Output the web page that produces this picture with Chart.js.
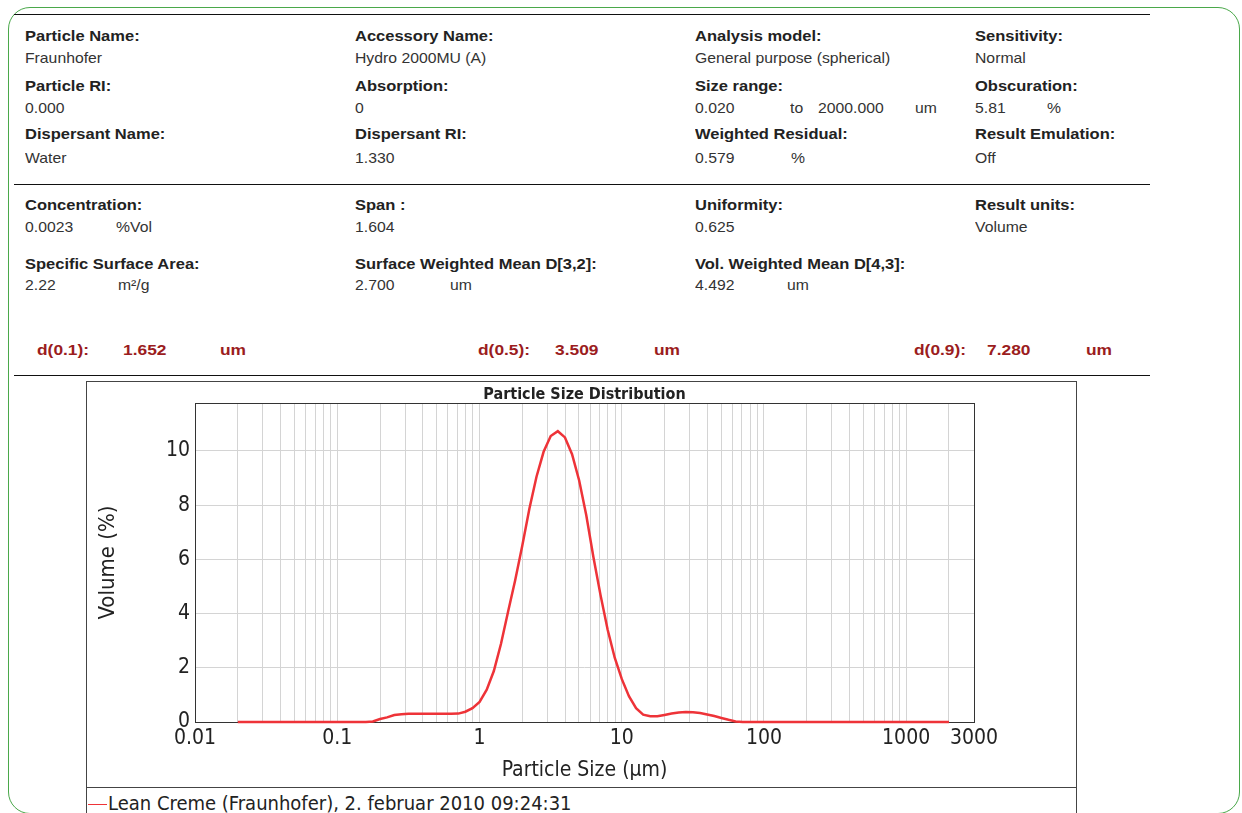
<!DOCTYPE html>
<html lang="en">
<head>
<meta charset="UTF-8">
<title>Particle Size Distribution</title>
<script src="https://cdn.jsdelivr.net/npm/chart.js"></script>
<style>
  html, body { margin: 0; padding: 0; background: #fff; }
  body { width: 1242px; height: 813px; position: relative; overflow: hidden; font-family: "Liberation Sans", Arial, sans-serif; }
  .frame { position: absolute; left: 8px; top: 7px; width: 1230px; height: 805px; border: 1.5px solid #4aa84a; border-radius: 22px; }
  .rule { position: absolute; left: 14px; width: 1136px; height: 0; border-top: 1.5px solid #111; }
  .t { position: absolute; font-size: 15px; line-height: 16px; color: #333; white-space: nowrap; transform: scaleX(1.05); transform-origin: left center; }
  .b { font-weight: bold; color: #222; transform: scaleX(1.1); }
  .d { font-weight: bold; color: #9b1c20; font-size: 15.5px; transform: scaleX(1.12); }
  .box { position: absolute; left: 86px; top: 381px; width: 989px; height: 500px; border: 1px solid #444; }
  .legline { position: absolute; left: 86px; top: 787px; width: 990px; height: 0; border-top: 1px solid #444; }
  #chartWrap { position: absolute; left: 86px; top: 381px; width: 990px; height: 406px; }
  .legend { position: absolute; left: 88px; top: 791px; font-family: "DejaVu Sans Condensed", "DejaVu Sans", sans-serif; font-size: 20px; line-height: 24px; color: #222; white-space: nowrap; }
  .legend span { display: inline-block; width: 19px; height: 0; border-top: 1.5px solid #ee3338; vertical-align: middle; margin-right: 1px; }
</style>
</head>
<body>
  <div class="frame"></div>
  <div class="rule" style="top:14px"></div>
  <div class="rule" style="top:184px"></div>
  <div class="rule" style="top:375px"></div>

  <!-- measurement settings -->
  <div class="t b" style="left:25px;top:28px">Particle Name:</div>
  <div class="t" style="left:25px;top:50px">Fraunhofer</div>
  <div class="t b" style="left:25px;top:78px">Particle RI:</div>
  <div class="t" style="left:25px;top:100px">0.000</div>
  <div class="t b" style="left:25px;top:126px">Dispersant Name:</div>
  <div class="t" style="left:25px;top:150px">Water</div>

  <div class="t b" style="left:355px;top:28px">Accessory Name:</div>
  <div class="t" style="left:355px;top:50px">Hydro 2000MU (A)</div>
  <div class="t b" style="left:355px;top:78px">Absorption:</div>
  <div class="t" style="left:355px;top:100px">0</div>
  <div class="t b" style="left:355px;top:126px">Dispersant RI:</div>
  <div class="t" style="left:355px;top:150px">1.330</div>

  <div class="t b" style="left:695px;top:28px">Analysis model:</div>
  <div class="t" style="left:695px;top:50px">General purpose (spherical)</div>
  <div class="t b" style="left:695px;top:78px">Size range:</div>
  <div class="t" style="left:695px;top:100px">0.020</div>
  <div class="t" style="left:790px;top:100px">to</div>
  <div class="t" style="left:818px;top:100px">2000.000</div>
  <div class="t" style="left:915px;top:100px">um</div>
  <div class="t b" style="left:695px;top:126px">Weighted Residual:</div>
  <div class="t" style="left:695px;top:150px">0.579</div>
  <div class="t" style="left:791px;top:150px">%</div>

  <div class="t b" style="left:975px;top:28px">Sensitivity:</div>
  <div class="t" style="left:975px;top:50px">Normal</div>
  <div class="t b" style="left:975px;top:78px">Obscuration:</div>
  <div class="t" style="left:975px;top:100px">5.81</div>
  <div class="t" style="left:1047px;top:100px">%</div>
  <div class="t b" style="left:975px;top:126px">Result Emulation:</div>
  <div class="t" style="left:975px;top:150px">Off</div>

  <!-- result summary -->
  <div class="t b" style="left:25px;top:197px">Concentration:</div>
  <div class="t" style="left:25px;top:219px">0.0023</div>
  <div class="t" style="left:116px;top:219px">%Vol</div>
  <div class="t b" style="left:25px;top:256px">Specific Surface Area:</div>
  <div class="t" style="left:25px;top:277px">2.22</div>
  <div class="t" style="left:118px;top:277px">m²/g</div>

  <div class="t b" style="left:355px;top:197px">Span :</div>
  <div class="t" style="left:355px;top:219px">1.604</div>
  <div class="t b" style="left:355px;top:256px">Surface Weighted Mean D[3,2]:</div>
  <div class="t" style="left:355px;top:277px">2.700</div>
  <div class="t" style="left:450px;top:277px">um</div>

  <div class="t b" style="left:695px;top:197px">Uniformity:</div>
  <div class="t" style="left:695px;top:219px">0.625</div>
  <div class="t b" style="left:695px;top:256px">Vol. Weighted Mean D[4,3]:</div>
  <div class="t" style="left:695px;top:277px">4.492</div>
  <div class="t" style="left:787px;top:277px">um</div>

  <div class="t b" style="left:975px;top:197px">Result units:</div>
  <div class="t" style="left:975px;top:219px">Volume</div>

  <div class="t d" style="left:37px;top:342px">d(0.1):</div>
  <div class="t d" style="left:123px;top:342px">1.652</div>
  <div class="t d" style="left:220px;top:342px">um</div>
  <div class="t d" style="left:478px;top:342px">d(0.5):</div>
  <div class="t d" style="left:555px;top:342px">3.509</div>
  <div class="t d" style="left:654px;top:342px">um</div>
  <div class="t d" style="left:914px;top:342px">d(0.9):</div>
  <div class="t d" style="left:987px;top:342px">7.280</div>
  <div class="t d" style="left:1086px;top:342px">um</div>

  <div class="box"></div>
  <div class="legline"></div>
  <div id="chartWrap"><canvas id="psdChart"></canvas></div>
  <div class="legend" id="legend"></div>

<script>
// particle size bins (um) and volume (%)
const sizes = [
  0.020, 0.022, 0.025, 0.028, 0.032, 0.036, 0.040, 0.045, 0.050, 0.056,
  0.063, 0.071, 0.080, 0.089, 0.100, 0.112, 0.126, 0.142, 0.159, 0.178,
  0.200, 0.224, 0.252, 0.283, 0.317, 0.356, 0.399, 0.448, 0.502, 0.564,
  0.632, 0.710, 0.796, 0.893, 1.002, 1.125, 1.262, 1.416, 1.589, 1.783,
  2.000, 2.244, 2.518, 2.825, 3.170, 3.557, 3.991, 4.477, 5.024, 5.637,
  6.325, 7.096, 7.962, 8.934, 10.024, 11.247, 12.619, 14.159, 15.887, 17.825,
  20.000, 22.440, 25.179, 28.251, 31.698, 35.566, 39.905, 44.774, 50.238, 56.368,
  63.246, 70.963, 79.621, 89.337, 100.237, 112.468, 126.191, 141.589, 158.866, 178.250,
  200.000, 224.404, 251.785, 282.508, 316.979, 355.656, 399.052, 447.744, 502.377, 563.677,
  632.456, 709.627, 796.214, 893.367, 1002.374, 1124.683, 1261.915, 1415.892, 1588.656, 1782.502,
  2000.000
];
const volume = [
  0, 0, 0, 0, 0, 0, 0, 0, 0, 0,
  0, 0, 0, 0, 0, 0, 0, 0, 0, 0.02,
  0.11, 0.17, 0.26, 0.29, 0.30, 0.30, 0.30, 0.30, 0.30, 0.30,
  0.30, 0.31, 0.38, 0.51, 0.74, 1.19, 1.88, 2.88, 4.07, 5.23,
  6.50, 7.87, 9.05, 9.97, 10.55, 10.73, 10.50, 9.88, 8.91, 7.63,
  6.09, 4.69, 3.41, 2.37, 1.58, 0.95, 0.51, 0.27, 0.21, 0.21,
  0.26, 0.31, 0.35, 0.37, 0.36, 0.33, 0.28, 0.22, 0.15, 0.08,
  0.02, 0, 0, 0, 0, 0, 0, 0, 0, 0,
  0, 0, 0, 0, 0, 0, 0, 0, 0, 0,
  0, 0, 0, 0, 0, 0, 0, 0, 0, 0,
  0
];
const seriesLabel = 'Lean Creme (Fraunhofer), 2. februar 2010 09:24:31';
const xLabels = [0.01, 0.1, 1, 10, 100, 1000, 3000];
const yTicks = [0, 2, 4, 6, 8, 10];
const yMax = 11.77;

// minor grid: 1..9 in every decade up to 3000
const xGrid = [];
for (let e = -2; e <= 3; e++) {
  for (let m = 1; m <= 9; m++) {
    const v = +(m * Math.pow(10, e)).toPrecision(3);
    if (v <= 3000) xGrid.push(v);
  }
}

const chartFont = "'DejaVu Sans Condensed', 'Liberation Sans Narrow', 'DejaVu Sans', sans-serif";

const plotFrame = {
  id: 'plotFrame',
  beforeDatasetsDraw(chart) {
    const a = chart.chartArea;
    const ctx = chart.ctx;
    ctx.save();
    ctx.strokeStyle = '#333';
    ctx.lineWidth = 1;
    ctx.strokeRect(Math.round(a.left) + 0.5, Math.round(a.top) + 0.5, Math.round(a.right - a.left), Math.round(a.bottom - a.top));
    ctx.restore();
  }
};

new Chart(document.getElementById('psdChart'), {
  type: 'line',
  data: {
    datasets: [{
      label: seriesLabel,
      data: sizes.map((s, i) => ({ x: s, y: volume[i] })),
      borderColor: '#ee3338',
      borderWidth: 2.5,
      pointRadius: 0,
      tension: 0,
      fill: false,
      clip: false
    }]
  },
  options: {
    responsive: true,
    maintainAspectRatio: false,
    animation: false,
    layout: { padding: { left: 0, right: 102, top: 0, bottom: 0 } },
    plugins: {
      legend: { display: false },
      tooltip: { enabled: false },
      title: {
        display: true,
        text: 'Particle Size Distribution',
        fullSize: false,
        color: '#222',
        font: { family: chartFont, size: 16, weight: 'bold', lineHeight: 1 },
        padding: { top: 6, bottom: 0 }
      }
    },
    scales: {
      x: {
        type: 'logarithmic',
        min: 0.01,
        max: 3000,
        afterBuildTicks: s => { s.ticks = xGrid.map(v => ({ value: v })); },
        afterFit: s => { s.height = 65; },
        grid: { color: '#d4d4d4', lineWidth: 1, drawTicks: false },
        border: { display: false },
        ticks: {
          autoSkip: false,
          maxRotation: 0,
          padding: 4,
          color: '#222',
          font: { family: chartFont, size: 21 },
          callback: v => xLabels.some(l => Math.abs(l - v) / l < 1e-6) ? String(v) : ''
        },
        title: {
          display: true,
          text: 'Particle Size (μm)',
          color: '#222',
          font: { family: chartFont, size: 21 },
          padding: { top: 0, bottom: 4 }
        }
      },
      y: {
        min: 0,
        max: yMax,
        afterBuildTicks: s => { s.ticks = yTicks.map(v => ({ value: v })); },
        afterFit: s => { s.width = 109; },
        grid: { color: '#d4d4d4', lineWidth: 1, drawTicks: false },
        border: { display: false },
        ticks: {
          padding: 5,
          color: '#222',
          font: { family: chartFont, size: 21 }
        },
        title: {
          display: true,
          text: 'Volume (%)',
          color: '#222',
          font: { family: chartFont, size: 22 },
          padding: { top: 9, bottom: 0 }
        }
      }
    }
  },
  plugins: [plotFrame]
});

document.getElementById('legend').innerHTML = '<span></span>' + seriesLabel;
</script>
</body>
</html>
